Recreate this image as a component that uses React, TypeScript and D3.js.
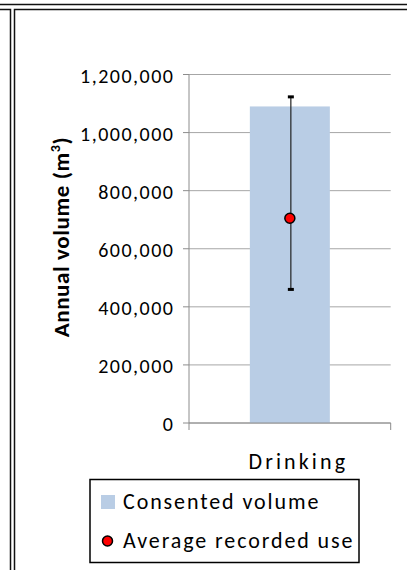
import React from "react"
import * as d3 from "d3"

const categories = ["Drinking"]
const consentedVolume = [1090000]
const averageUse = [705000]
const useLow = [460000]
const useHigh = [1123000]
const yTicks = [0, 200000, 400000, 600000, 800000, 1000000, 1200000]
const legendLabels = ["Consented volume", "Average recorded use"]

const width = 407
const height = 570
const plot = { left: 189, right: 390.7, top: 74.5, bottom: 423 }

const font = "Calibri, Carlito, 'Open Sans', sans-serif"
const barColor = "#b9cde5"
const gridColor = "#a6a6a6"

export default function App() {
  const y = d3.scaleLinear().domain([0, 1200000]).range([plot.bottom, plot.top])
  const x = d3
    .scaleBand<string>()
    .domain(categories)
    .range([plot.left, plot.right])
    .padding(0.432)
  const fmt = d3.format(",")

  return (
    <svg
      width={width}
      height={height}
      style={{ position: "absolute", left: 0, top: 0, display: "block", background: "white" }}
    >
      {/* double frame */}
      <g stroke="#111" strokeWidth={1.5} fill="none">
        <line x1={0} x2={width} y1={4.5} y2={4.5} />
        <path d={`M0,9.5 H10.5 V${height}`} />
        <path d={`M${width},9.5 H14.5 V${height}`} />
      </g>

      {/* gridlines */}
      {yTicks.map(t => (
        <line
          key={"g" + t}
          x1={plot.left}
          x2={plot.right}
          y1={y(t)}
          y2={y(t)}
          stroke={gridColor}
          strokeWidth={1}
        />
      ))}

      {/* bars */}
      {categories.map((c, i) => (
        <rect
          key={"b" + c}
          x={x(c)}
          y={y(consentedVolume[i])}
          width={x.bandwidth()}
          height={y(0) - y(consentedVolume[i])}
          fill={barColor}
        />
      ))}

      {/* axes */}
      <g stroke="#8c8c8c" strokeWidth={1}>
        <line x1={plot.left} x2={plot.left} y1={plot.top} y2={plot.bottom + 7} />
        <line x1={plot.left} x2={plot.right} y1={plot.bottom} y2={plot.bottom} />
        <line x1={plot.right} x2={plot.right} y1={plot.bottom} y2={plot.bottom + 7} />
        {yTicks.map(t => (
          <line key={"t" + t} x1={plot.left - 6} x2={plot.left} y1={y(t)} y2={y(t)} />
        ))}
      </g>

      {/* y tick labels */}
      {yTicks.map(t => (
        <text
          key={"l" + t}
          x={174.5}
          y={y(t) + 8}
          textAnchor="end"
          fontFamily={font}
          fontSize={20}
          letterSpacing={1.5}
          fill="#000"
        >
          {fmt(t)}
        </text>
      ))}

      {/* error bars and average points */}
      {categories.map((c, i) => {
        const cx = (x(c) ?? 0) + x.bandwidth() / 2 + 1
        return (
          <g key={"e" + c}>
            <line x1={cx} x2={cx} y1={y(useHigh[i])} y2={y(useLow[i])} stroke="#222" strokeWidth={1.2} />
            <rect x={cx - 3} y={y(useHigh[i]) - 1.5} width={6} height={3} fill="#000" />
            <rect x={cx - 3} y={y(useLow[i]) - 1.5} width={6} height={3} fill="#000" />
            <circle cx={cx - 1} cy={y(averageUse[i])} r={5} fill="#ff0000" stroke="#000" strokeWidth={1.5} />
          </g>
        )
      })}

      {/* category labels */}
      {categories.map(c => (
        <text
          key={"c" + c}
          x={(x(c) ?? 0) + x.bandwidth() / 2 + 8.5}
          y={469}
          textAnchor="middle"
          fontFamily={font}
          fontSize={22}
          letterSpacing={3.1}
          fill="#000"
        >
          {c}
        </text>
      ))}

      {/* y axis title */}
      <text
        transform="translate(69,237) rotate(-90)"
        textAnchor="middle"
        fontFamily={font}
        fontSize={23}
        fontWeight="bold"
        letterSpacing={0.6}
        fill="#000"
      >
        Annual volume (m
        <tspan fontSize={14} dy={-9}>3</tspan>
        <tspan dy={9}>)</tspan>
      </text>

      {/* legend */}
      <rect x={90} y={479.5} width={269} height={83} fill="white" stroke="#000" strokeWidth={1.5} />
      <rect x={101} y={495} width={14} height={14} fill={barColor} />
      <circle cx={107.5} cy={541} r={5} fill="#ff0000" stroke="#000" strokeWidth={1.5} />
      {legendLabels.map((l, i) => (
        <text
          key={"lg" + l}
          x={123}
          y={509 + i * 39}
          fontFamily={font}
          fontSize={22}
          letterSpacing={1.9}
          fill="#000"
        >
          {l}
        </text>
      ))}
    </svg>
  )
}
